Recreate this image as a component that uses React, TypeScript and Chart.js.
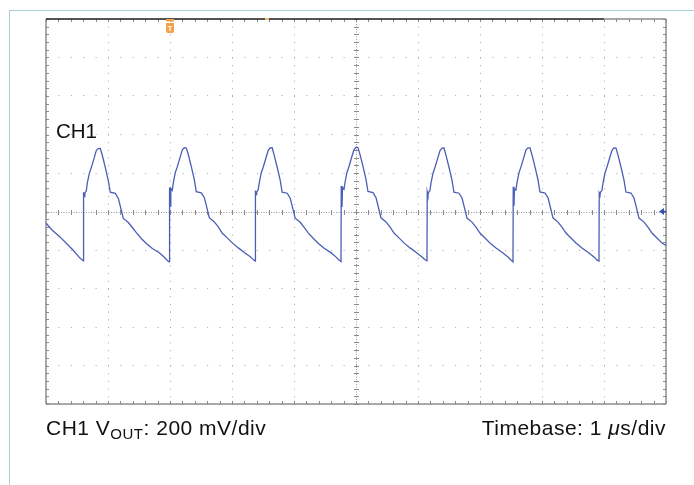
import React, { useEffect, useRef } from "react";
import { Chart, registerables } from "chart.js";

Chart.register(...registerables);

// Horizontal axis: time in microseconds (1 µs/div, 10 divisions)
const X_MIN = -5;
const X_MAX = 5;
const X_STEP = 1;
// Vertical axis: CH1 in millivolts (200 mV/div, 10 divisions)
const Y_MIN = -1000;
const Y_MAX = 1000;
const Y_STEP = 200;

const triggerUs = -3.0;
const recordEndUs = 4.0;
const horizMarkUs = -1.435;
const groundMv = 0;

// CH1 VOUT trace samples (time µs)
const timeUs = [
  -5.0, -4.903, -4.774, -4.677, -4.565, -4.452,
  -4.398, -4.394, -4.382, -4.374, -4.35, -4.333, -4.301, -4.269, -4.221, -4.188, -4.156, -4.124, -4.092, -4.043, -3.995, -3.963, -3.882, -3.833, -3.785, -3.753, -3.672, -3.608, -3.543, -3.463, -3.382, -3.285, -3.172, -3.092, -3.043,
  -3.011, -3.007, -2.995, -2.987, -2.963, -2.946, -2.914, -2.882, -2.834, -2.801, -2.769, -2.737, -2.705, -2.656, -2.608, -2.576, -2.495, -2.446, -2.398, -2.366, -2.285, -2.221, -2.156, -2.076, -1.995, -1.898, -1.785, -1.705, -1.656,
  -1.626, -1.622, -1.61, -1.602, -1.578, -1.561, -1.529, -1.497, -1.449, -1.416, -1.384, -1.352, -1.32, -1.271, -1.223, -1.191, -1.11, -1.061, -1.013, -0.981, -0.9, -0.836, -0.771, -0.691, -0.61, -0.513, -0.4, -0.32, -0.271,
  -0.242, -0.238, -0.226, -0.218, -0.194, -0.177, -0.145, -0.113, -0.065, -0.032, 0.0, 0.032, 0.064, 0.113, 0.161, 0.193, 0.274, 0.323, 0.371, 0.403, 0.484, 0.548, 0.613, 0.693, 0.774, 0.871, 0.984, 1.064, 1.113,
  1.145, 1.149, 1.161, 1.169, 1.193, 1.21, 1.242, 1.274, 1.322, 1.355, 1.387, 1.419, 1.451, 1.5, 1.548, 1.58, 1.661, 1.71, 1.758, 1.79, 1.871, 1.935, 2.0, 2.08, 2.161, 2.258, 2.371, 2.451, 2.5,
  2.532, 2.536, 2.548, 2.556, 2.58, 2.597, 2.629, 2.661, 2.709, 2.742, 2.774, 2.806, 2.838, 2.887, 2.935, 2.967, 3.048, 3.097, 3.145, 3.177, 3.258, 3.322, 3.387, 3.467, 3.548, 3.645, 3.758, 3.838, 3.887,
  3.919, 3.923, 3.935, 3.943, 3.967, 3.984, 4.016, 4.048, 4.096, 4.129, 4.161, 4.193, 4.225, 4.274, 4.322, 4.354, 4.435, 4.484, 4.532, 4.564, 4.645, 4.709, 4.774, 4.854, 4.935, 5.0,
];

// CH1 VOUT trace samples (mV)
const ch1mV = [
  -60, -96, -132, -164, -200, -242,
  -257, 100, 78, 95, 108, 150, 198, 228, 280, 318, 327, 328, 292, 228, 160, 100, 94, 68, 6, -36, -57, -83, -110, -140, -166, -192, -214, -238, -254,
  -262, 125, 28, 120, 110, 150, 203, 233, 285, 320, 332, 330, 296, 233, 166, 103, 97, 72, 10, -32, -54, -80, -113, -137, -163, -189, -217, -235, -250,
  -258, 108, 88, 100, 113, 147, 200, 230, 282, 318, 330, 331, 293, 230, 163, 100, 95, 69, 7, -35, -56, -82, -111, -139, -165, -191, -215, -237, -253,
  -260, 132, 24, 125, 115, 152, 204, 234, 287, 322, 334, 332, 297, 234, 167, 104, 98, 72, 9, -33, -54, -80, -112, -137, -163, -189, -216, -236, -251,
  -256, 102, 84, 98, 110, 149, 199, 230, 281, 317, 329, 330, 293, 230, 163, 100, 95, 70, 8, -34, -55, -81, -112, -138, -164, -190, -216, -236, -252,
  -261, 128, 30, 118, 112, 150, 202, 232, 284, 320, 331, 331, 295, 232, 165, 102, 96, 71, 9, -33, -55, -81, -112, -138, -164, -190, -216, -236, -253,
  -257, 96, 86, 100, 110, 148, 200, 231, 283, 318, 330, 329, 294, 231, 164, 101, 96, 70, 8, -34, -55, -81, -112, -138, -164, -176,
];

const FONT = "'Liberation Sans', Arial, Helvetica, sans-serif";

const scopePlugin = {
  id: "scopeDecor",
  beforeDatasetsDraw(chart: any) {
    const { ctx, chartArea: a, scales } = chart;
    const x = scales.x;
    const y = scales.y;
    const cx = Math.round(x.getPixelForValue(0)) + 0.5;
    const cy = Math.round(y.getPixelForValue(0)) + 0.5;
    const line = (x1: number, y1: number, x2: number, y2: number) => {
      ctx.beginPath();
      ctx.moveTo(x1, y1);
      ctx.lineTo(x2, y2);
      ctx.stroke();
    };
    ctx.save();
    // centre crosshair
    ctx.strokeStyle = "#9a9a9a";
    ctx.lineWidth = 1;
    ctx.setLineDash([1, 1.5]);
    line(a.left, cy, a.right, cy);
    line(cx, a.top, cx, a.bottom);
    ctx.setLineDash([]);
    // minor ticks (5 per division)
    ctx.strokeStyle = "#8a8a8a";
    const nx = Math.round(((X_MAX - X_MIN) / X_STEP) * 5);
    for (let i = 0; i <= nx; i++) {
      const px = Math.round(x.getPixelForValue(X_MIN + (i * X_STEP) / 5)) + 0.5;
      line(px, cy - 2.5, px, cy + 2.5);
      line(px, a.bottom, px, a.bottom - 3);
      line(px, a.top, px, a.top + 3);
    }
    const ny = Math.round(((Y_MAX - Y_MIN) / Y_STEP) * 5);
    for (let i = 0; i <= ny; i++) {
      const py = Math.round(y.getPixelForValue(Y_MIN + (i * Y_STEP) / 5)) + 0.5;
      line(cx - 2.5, py, cx + 2.5, py);
      line(a.left, py, a.left + 3, py);
      line(a.right, py, a.right - 3, py);
    }
    // frame
    ctx.lineWidth = 1.5;
    ctx.strokeStyle = "#8c8c8c";
    line(a.left, a.top, a.left, a.bottom);
    line(a.left, a.bottom, a.right, a.bottom);
    line(a.right, a.top, a.right, a.bottom);
    const endPx = x.getPixelForValue(recordEndUs);
    line(endPx, a.top, a.right, a.top);
    ctx.strokeStyle = "#1c1c1c";
    line(a.left, a.top, endPx, a.top);
    ctx.restore();
  },
  afterDatasetsDraw(chart: any) {
    const { ctx, chartArea: a, scales } = chart;
    const x = scales.x;
    const y = scales.y;
    ctx.save();
    // small horizontal-position mark
    const hm = x.getPixelForValue(horizMarkUs);
    ctx.fillStyle = "#f2b978";
    ctx.fillRect(hm - 2, a.top - 1, 4, 2);
    // trigger marker
    const tp = x.getPixelForValue(triggerUs);
    ctx.fillStyle = "#f4a24a";
    ctx.fillRect(tp - 4, a.top, 8, 2.5);
    ctx.beginPath();
    ctx.moveTo(tp - 4, a.top + 4);
    ctx.lineTo(tp + 4, a.top + 4);
    ctx.lineTo(tp + 4, a.top + 12);
    ctx.quadraticCurveTo(tp + 4, a.top + 14, tp + 2, a.top + 14);
    ctx.lineTo(tp - 2, a.top + 14);
    ctx.quadraticCurveTo(tp - 4, a.top + 14, tp - 4, a.top + 12);
    ctx.closePath();
    ctx.fill();
    ctx.fillStyle = "#ffffff";
    ctx.font = `bold 8px ${FONT}`;
    ctx.textAlign = "center";
    ctx.textBaseline = "middle";
    ctx.fillText("T", tp, a.top + 9.5);
    // ground level marker
    const gy = y.getPixelForValue(groundMv);
    ctx.fillStyle = "#3550b4";
    ctx.beginPath();
    ctx.moveTo(a.right - 7, gy);
    ctx.lineTo(a.right - 2, gy - 3.5);
    ctx.lineTo(a.right - 2, gy + 3.5);
    ctx.closePath();
    ctx.fill();
    ctx.fillRect(a.right - 3, gy - 0.75, 3, 1.5);
    ctx.restore();
  },
};

export default function App() {
  const canvasRef = useRef<HTMLCanvasElement | null>(null);

  useEffect(() => {
    if (!canvasRef.current) return;
    const chart = new Chart(canvasRef.current, {
      type: "line",
      data: {
        datasets: [
          {
            label: "CH1 VOUT",
            data: timeUs.map((t, i) => ({ x: t, y: ch1mV[i] })),
            borderColor: "#4a5eb6",
            borderWidth: 1.3,
            pointRadius: 0,
            tension: 0,
            fill: false,
          },
        ],
      },
      options: {
        animation: false,
        responsive: false,
        devicePixelRatio: 1,
        layout: { padding: { left: 46, top: 19, right: 28, bottom: 81 } },
        plugins: { legend: { display: false }, tooltip: { enabled: false } },
        scales: {
          x: {
            type: "linear",
            min: X_MIN,
            max: X_MAX,
            ticks: { stepSize: X_STEP, display: false },
            grid: {
              color: (c: any) => (c.tick && c.tick.value === 0 ? "rgba(0,0,0,0)" : "#a3a3a3"),
              lineWidth: 1,
              drawTicks: false,
            },
            border: { display: false, dash: [1, 6.7] },
          },
          y: {
            type: "linear",
            min: Y_MIN,
            max: Y_MAX,
            ticks: { stepSize: Y_STEP, display: false },
            grid: {
              color: (c: any) => (c.tick && c.tick.value === 0 ? "rgba(0,0,0,0)" : "#a3a3a3"),
              lineWidth: 1,
              drawTicks: false,
            },
            border: { display: false, dash: [1, 11.4] },
          },
        },
      },
      plugins: [scopePlugin],
    });
    return () => chart.destroy();
  }, []);

  const textStyle: React.CSSProperties = {
    position: "absolute",
    fontFamily: FONT,
    fontSize: 21,
    lineHeight: "21px",
    color: "#111",
    whiteSpace: "nowrap",
  };

  return (
    <div
      style={{
        position: "fixed",
        left: 0,
        top: 0,
        width: 694,
        height: 485,
        overflow: "hidden",
        background: "#fff",
      }}
    >
      <div
        style={{
          position: "absolute",
          left: 9,
          top: 10,
          width: 720,
          height: 520,
          borderTop: "1.5px solid #abcdd8",
          borderLeft: "1.5px solid #abcdd8",
        }}
      />
      <canvas
        ref={canvasRef}
        width={694}
        height={485}
        style={{ position: "absolute", left: 0, top: 0, width: 694, height: 485 }}
      />
      <div style={{ ...textStyle, fontSize: 20.5, left: 56, top: 120 }}>CH1</div>
      <div style={{ ...textStyle, left: 46, top: 417, letterSpacing: "0.5px" }}>
        CH1 V
        <span style={{ fontSize: 15, position: "relative", top: 4 }}>OUT</span>: 200 mV/div
      </div>
      <div style={{ ...textStyle, right: 28, top: 417, textAlign: "right", letterSpacing: "0.5px" }}>
        Timebase: 1 <i>μ</i>s/div
      </div>
    </div>
  );
}
